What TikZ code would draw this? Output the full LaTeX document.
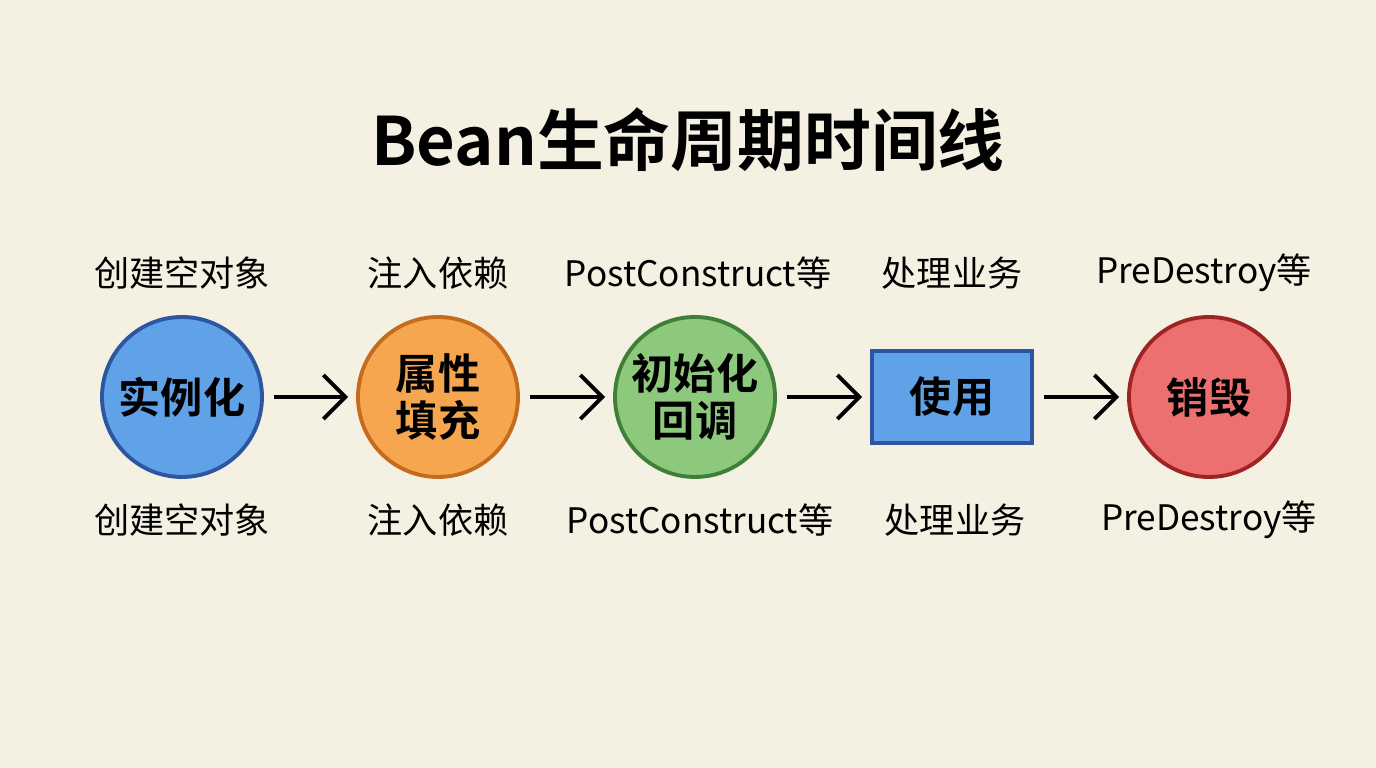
\documentclass[tikz,border=0pt]{standalone}
\usepackage{fontspec}
\usepackage{tikz}
\usetikzlibrary{arrows.meta}
\setmainfont{Noto Sans CJK SC}
\newfontfamily\cjkbold{Noto Sans CJK SC Bold}
\definecolor{paper}{HTML}{F4F1E3}
\definecolor{bluefill}{HTML}{5FA2E8}
\definecolor{blueline}{HTML}{2D55A0}
\definecolor{orangefill}{HTML}{F6A64E}
\definecolor{orangeline}{HTML}{C46B1C}
\definecolor{greenfill}{HTML}{8CC97C}
\definecolor{greenline}{HTML}{3F7F38}
\definecolor{redfill}{HTML}{EC7070}
\definecolor{redline}{HTML}{9E2424}
\tikzset{
  stage/.style={circle, minimum size=1.6cm, line width=1.1pt, align=center,
    inner sep=0pt, font=\cjkbold\fontsize{12}{13.5}\selectfont},
  usebox/.style={rectangle, minimum width=1.6cm, minimum height=0.92cm,
    line width=1.1pt, font=\cjkbold\fontsize{12}{13.5}\selectfont},
  note/.style={font=\fontsize{10}{12}\selectfont},
  flow/.style={-{Straight Barb[length=2.2mm,width=4.4mm]}, line width=1.1pt,
    shorten <=0.1cm, shorten >=0.08cm}
}

\begin{document}
\begin{tikzpicture}
            \useasboundingbox[fill=paper] (0,0) rectangle (13.76,7.68);
            \node[font=\cjkbold\fontsize{19}{22}\selectfont] (title) at (6.88,6.28) {Bean生命周期时间线};
            % stages
            \node[stage, fill=bluefill, draw=blueline] (inst) at (1.82,3.71) {实例化};
            \node[stage, fill=orangefill, draw=orangeline] (prop) at (4.38,3.71) {属性\\填充};
            \node[stage, fill=greenfill, draw=greenline] (init) at (6.95,3.71) {初始化\\回调};
            \node[usebox, fill=bluefill, draw=blueline] (use) at (9.52,3.71) {使用};
            \node[stage, fill=redfill, draw=redline] (dest) at (12.09,3.71) {销毁};
            \draw[flow] (inst) -- (prop);
            \draw[flow] (prop) -- (init);
            \draw[flow] (init) -- (use);
            \draw[flow] (use) -- (dest);
            % notes above
            \node[note] (instup) at (1.82,4.95) {创建空对象};
            \node[note] (propup) at (4.38,4.95) {注入依赖};
            \node[note] (initup) at (6.98,4.95) {PostConstruct等};
            \node[note] (useup) at (9.52,4.95) {处理业务};
            \node[note] (destup) at (12.04,4.95) {PreDestroy等};
            % notes below
            \node[note] (instdown) at (1.82,2.48) {创建空对象};
            \node[note] (propdown) at (4.38,2.48) {注入依赖};
            \node[note] (initdown) at (7.00,2.48) {PostConstruct等};
            \node[note] (usedown) at (9.55,2.48) {处理业务};
            \node[note] (destdown) at (12.09,2.48) {PreDestroy等};
        \end{tikzpicture}
\end{document}
